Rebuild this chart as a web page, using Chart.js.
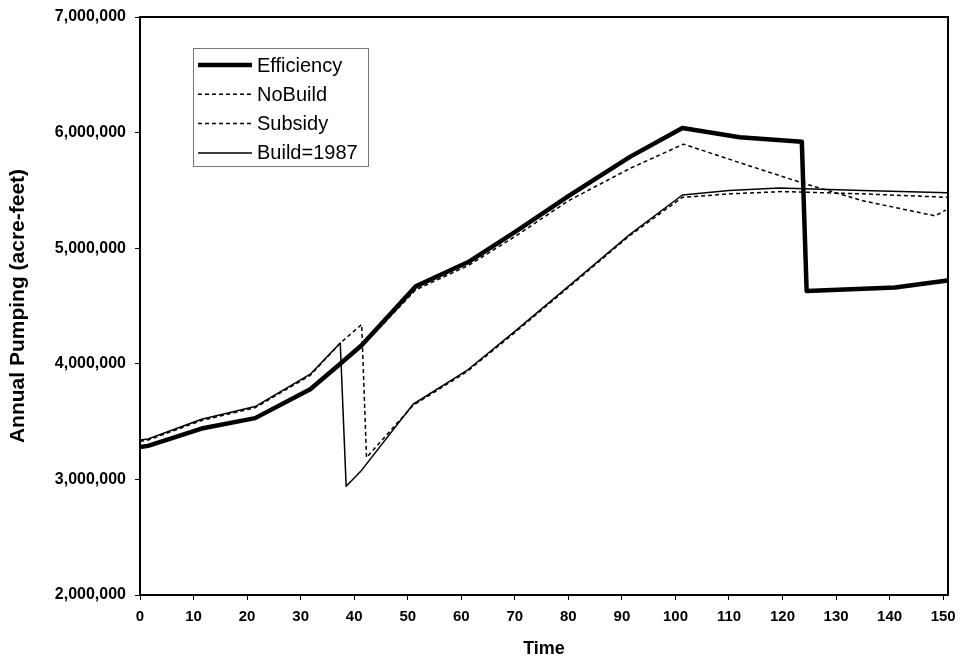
<!DOCTYPE html>
<html>
<head>
<meta charset="utf-8">
<script src="https://cdn.jsdelivr.net/npm/chart.js@4.4.0/dist/chart.umd.min.js"></script>
<style>
  html, body { margin: 0; padding: 0; background: #fff; }
</style>
</head>
<body>
<canvas id="chart" width="962" height="663"></canvas>
<script>
// Values (pumping in acre-feet, time in years)
const efficiencyTime = [0, 1.5, 11.5, 21.5, 31.8, 37.4, 41.4, 51.5, 61.3, 70, 80, 91.5, 101.3, 112, 123.6, 124.5, 141, 150.8];
const efficiencyPumping = [3280000, 3290000, 3440000, 3530000, 3780000, 4000000, 4160000, 4670000, 4880000, 5140000, 5450000, 5790000, 6040000, 5960000, 5920000, 4630000, 4660000, 4720000];

// NoBuild sits under the thick Efficiency line until about year 45
const noBuildTime = [0, 1.5, 11.5, 21.5, 31.8, 37.4, 41.4, 51.5, 61.3, 70, 80, 91.5, 101.5, 112, 123.3, 135, 148.5, 150.5];
const noBuildPumping = [3280000, 3290000, 3440000, 3530000, 3780000, 4000000, 4150000, 4640000, 4850000, 5100000, 5410000, 5690000, 5900000, 5740000, 5570000, 5410000, 5280000, 5330000];

const subsidyTime = [0, 1.5, 11.5, 21.5, 31.8, 37.4, 41.4, 42.3, 51, 61, 70, 80, 91.5, 101.3, 110, 120, 135, 150.8];
const subsidyPumping = [3330000, 3340000, 3510000, 3620000, 3900000, 4180000, 4340000, 3190000, 3640000, 3930000, 4270000, 4660000, 5110000, 5440000, 5470000, 5490000, 5470000, 5440000];

const build1987Time = [0, 1.5, 11.5, 21.5, 31.8, 37.4, 38.5, 41.4, 51, 61, 70, 80, 91.5, 101.3, 110, 119.4, 135, 150.8];
const build1987Pumping = [3340000, 3350000, 3520000, 3630000, 3910000, 4180000, 2940000, 3080000, 3650000, 3940000, 4280000, 4670000, 5120000, 5460000, 5500000, 5520000, 5500000, 5480000];

const seriesNames = ['Efficiency', 'NoBuild', 'Subsidy', 'Build=1987'];

const xTicks = [0, 10, 20, 30, 40, 50, 60, 70, 80, 90, 100, 110, 120, 130, 140, 150];
const yMin = 2000000;
const yMax = 7000000;

const fontFamily = '"Liberation Sans", Arial, sans-serif';

function toPoints(times, values) {
  return times.map((t, i) => ({ x: t, y: values[i] }));
}

// Frame around the plot area (top and right edges)
const frame = {
  id: 'frame',
  afterDatasetsDraw(chart) {
    const { ctx, chartArea: a } = chart;
    ctx.save();
    ctx.strokeStyle = '#000';
    ctx.lineWidth = 2;
    ctx.beginPath();
    ctx.moveTo(a.left, a.top);
    ctx.lineTo(a.right, a.top);
    ctx.lineTo(a.right, a.bottom);
    ctx.stroke();
    ctx.restore();
  }
};

// Boxed legend inside the plot, upper left
const boxLegend = {
  id: 'boxLegend',
  afterDraw(chart) {
    const ctx = chart.ctx;
    const box = { x: 193.5, y: 48.5, w: 175, h: 118 };
    ctx.save();
    ctx.fillStyle = '#fff';
    ctx.fillRect(box.x, box.y, box.w, box.h);
    ctx.strokeStyle = '#777';
    ctx.lineWidth = 1;
    ctx.strokeRect(box.x, box.y, box.w, box.h);
    ctx.font = '20px ' + fontFamily;
    ctx.textBaseline = 'middle';
    ctx.fillStyle = '#000';
    chart.data.datasets.forEach((ds, i) => {
      const y = 65 + i * 29.3;
      ctx.strokeStyle = '#000';
      ctx.lineWidth = ds.borderWidth;
      ctx.setLineDash(ds.borderDash || []);
      ctx.beginPath();
      ctx.moveTo(198, y);
      ctx.lineTo(252, y);
      ctx.stroke();
      ctx.setLineDash([]);
      ctx.fillText(ds.label, 257, y + 1);
    });
    ctx.restore();
  }
};

const ctx = document.getElementById('chart').getContext('2d');
new Chart(ctx, {
  type: 'line',
  data: {
    datasets: [
      { label: seriesNames[0], data: toPoints(efficiencyTime, efficiencyPumping), borderColor: '#000', borderWidth: 4.5, borderDash: [], order: 0 },
      { label: seriesNames[1], data: toPoints(noBuildTime, noBuildPumping), borderColor: '#000', borderWidth: 1.5, borderDash: [4, 3], order: 1 },
      { label: seriesNames[2], data: toPoints(subsidyTime, subsidyPumping), borderColor: '#000', borderWidth: 1.5, borderDash: [4, 3], order: 2 },
      { label: seriesNames[3], data: toPoints(build1987Time, build1987Pumping), borderColor: '#000', borderWidth: 1.5, borderDash: [], order: 3 }
    ]
  },
  options: {
    responsive: false,
    animation: false,
    devicePixelRatio: 1,
    elements: {
      point: { radius: 0 },
      line: { tension: 0, borderJoinStyle: 'round', borderCapStyle: 'butt' }
    },
    layout: { padding: { top: 17, right: 14, left: 0, bottom: 0 } },
    plugins: {
      legend: { display: false },
      tooltip: { enabled: false }
    },
    scales: {
      x: {
        type: 'linear',
        min: 0,
        max: 150.9,
        afterFit(scale) {
          scale.height = 68;
          scale.paddingLeft = 0;
          scale.paddingRight = 0;
        },
        afterBuildTicks(scale) { scale.ticks = xTicks.map(v => ({ value: v })); },
        ticks: {
          color: '#000',
          padding: 8,
          maxRotation: 0,
          font: { family: fontFamily, size: 15, weight: 'bold' }
        },
        grid: { drawOnChartArea: false, drawTicks: true, tickLength: 5, color: '#000', lineWidth: 1 },
        border: { display: true, color: '#000', width: 2 },
        title: {
          display: true,
          text: 'Time',
          color: '#000',
          padding: { top: 0, bottom: 3 },
          font: { family: fontFamily, size: 18, weight: 'bold' }
        }
      },
      y: {
        min: yMin,
        max: yMax,
        afterFit(scale) {
          scale.width = 140;
          scale.paddingTop = 0;
          scale.paddingBottom = 0;
        },
        ticks: {
          stepSize: 1000000,
          color: '#000',
          padding: 9,
          font: { family: fontFamily, size: 16, weight: 'bold' },
          callback: v => v.toLocaleString('en-US')
        },
        grid: { drawOnChartArea: false, drawTicks: true, tickLength: 5, color: '#000', lineWidth: 1 },
        border: { display: true, color: '#000', width: 2 },
        title: {
          display: true,
          text: 'Annual Pumping (acre-feet)',
          color: '#000',
          padding: { top: 6, bottom: 0 },
          font: { family: fontFamily, size: 21, weight: 'bold' }
        }
      }
    }
  },
  plugins: [frame, boxLegend]
});
</script>
</body>
</html>
